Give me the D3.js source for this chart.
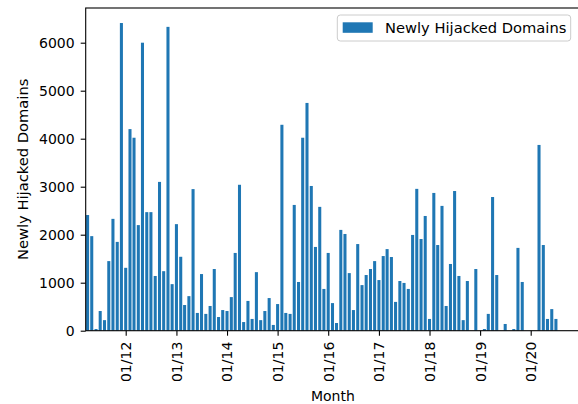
<!DOCTYPE html>
<html>
<head>
<meta charset="utf-8">
<script src="https://cdn.jsdelivr.net/npm/d3@7"></script>
<style>
  body { margin: 0; background: #fff; }
  text { font-family: "DejaVu Sans", sans-serif; fill: #000; }
</style>
</head>
<body>
<svg id="chart" width="578" height="404"></svg>
<script>
// monthly counts, April 2011 .. July 2020
var firstMonth = "2011-04-01";
var lastMonth = "2020-07-01";
var hijacked = [
    2410, 1970, 35, 410, 220, 1450, 2330, 1850, 6410,                 // 2011
    1310, 4200, 4020, 2200, 6000, 2470, 2470, 1140, 3100, 1240, 6330, 970, // 2012
    2220, 1540, 535, 720, 2950, 370, 1180, 350, 515, 1285, 285, 430,  // 2013
    410, 700, 1620, 3040, 180, 620, 245, 1220, 220, 410, 680, 120,    // 2014
    555, 4290, 370, 350, 2620, 1015, 4020, 4745, 3015, 1745, 2580, 870, // 2015
    1620, 575, 160, 2100, 2015, 1200, 430, 1805, 950, 1160, 1285, 1450, // 2016
    1055, 1555, 1700, 1535, 600, 1035, 995, 870, 1995, 2955, 1910, 2390, // 2017
    245, 2870, 1785, 2600, 515, 1390, 2910, 1140, 220, 1035, 0, 1285,  // 2018
    0, 35, 350, 2785, 1160, 0, 140, 0, 35, 1725, 1015, 0,              // 2019
    0, 0, 3870, 1785, 245, 450, 245                                    // 2020
];
var yTicks = [0, 1000, 2000, 3000, 4000, 5000, 6000];
var seriesName = "Newly Hijacked Domains";

var months = d3.utcMonth.range(new Date(firstMonth), d3.utcMonth.offset(new Date(lastMonth), 1));
var data = months.map(function(m, i){ return {month: m, value: hijacked[i]}; });

var svg = d3.select("#chart");
var plotL = 85.7, plotR = 580, plotT = 8, plotB = 330.7;
var blue = "#1f77b4";

// x: place year ticks where they sit in the picture, then stretch to the frame
var x = d3.scaleUtc()
    .domain([new Date("2012-01-01"), new Date("2020-01-01")])
    .range([125.7, 530.7]);
x.domain([x.invert(plotL), x.invert(plotR)]).range([plotL, plotR]);

var y = d3.scaleLinear().domain([0, 6000]).range([plotB, 42.7]);
y.domain([0, y.invert(plotT)]).range([plotB, plotT]);

var barW = function(d){ return x(d3.utcDay.offset(d.month, 22)) - x(d.month); };

svg.append("defs").append("clipPath").attr("id", "clip")
    .append("rect").attr("x", plotL).attr("y", plotT)
    .attr("width", plotR - plotL).attr("height", plotB - plotT);

svg.append("g").attr("clip-path", "url(#clip)")
    .selectAll("rect").data(data).enter().append("rect")
    .attr("x", function(d){ return x(d.month) - barW(d) / 2; })
    .attr("width", barW)
    .attr("y", function(d){ return y(d.value); })
    .attr("height", function(d){ return y(0) - y(d.value); })
    .attr("fill", blue);

// axes
var xAxis = svg.append("g").attr("transform", "translate(0," + plotB + ")")
    .call(d3.axisBottom(x).ticks(d3.utcYear.every(1))
          .tickFormat(d3.utcFormat("%m/%y")).tickSize(5).tickPadding(11));
xAxis.select(".domain").remove();
xAxis.selectAll("line").attr("stroke", "#000").attr("stroke-width", 1.1);
xAxis.selectAll("text")
    .attr("font-size", 14)
    .attr("transform", "rotate(-90)")
    .attr("x", -11).attr("y", 0).attr("dy", "0.35em")
    .attr("text-anchor", "end")
    .attr("font-family", "DejaVu Sans");

var yAxis = svg.append("g").attr("transform", "translate(" + plotL + ",0)")
    .call(d3.axisLeft(y).tickValues(yTicks).tickFormat(d3.format("d")).tickSize(5).tickPadding(6));
yAxis.select(".domain").remove();
yAxis.selectAll("line").attr("stroke", "#000").attr("stroke-width", 1.1);
yAxis.selectAll("text").attr("font-size", 14).attr("font-family", "DejaVu Sans");

// spines
svg.append("rect")
    .attr("x", plotL).attr("y", plotT)
    .attr("width", plotR - plotL).attr("height", plotB - plotT)
    .attr("fill", "none").attr("stroke", "#000").attr("stroke-width", 1.1);

// labels
svg.append("text").attr("x", (plotL + plotR) / 2).attr("y", 400.5)
    .attr("text-anchor", "middle").attr("font-size", 14).text("Month");
svg.append("text")
    .attr("transform", "translate(23," + (plotT + plotB) / 2 + ") rotate(-90)")
    .attr("dy", "0.35em").attr("text-anchor", "middle")
    .attr("font-size", 14.7).text(seriesName);

// legend
var lg = svg.append("g");
lg.append("rect").attr("x", 337.3).attr("y", 15).attr("width", 233.4).attr("height", 26)
    .attr("rx", 3).attr("fill", "#fff").attr("fill-opacity", 0.8)
    .attr("stroke", "#ccc").attr("stroke-width", 1);
lg.append("rect").attr("x", 342.7).attr("y", 22.3).attr("width", 30).attr("height", 10.5)
    .attr("fill", blue);
lg.append("text").attr("x", 385).attr("y", 33.4).attr("font-size", 14.7).text(seriesName);
</script>
</body>
</html>
